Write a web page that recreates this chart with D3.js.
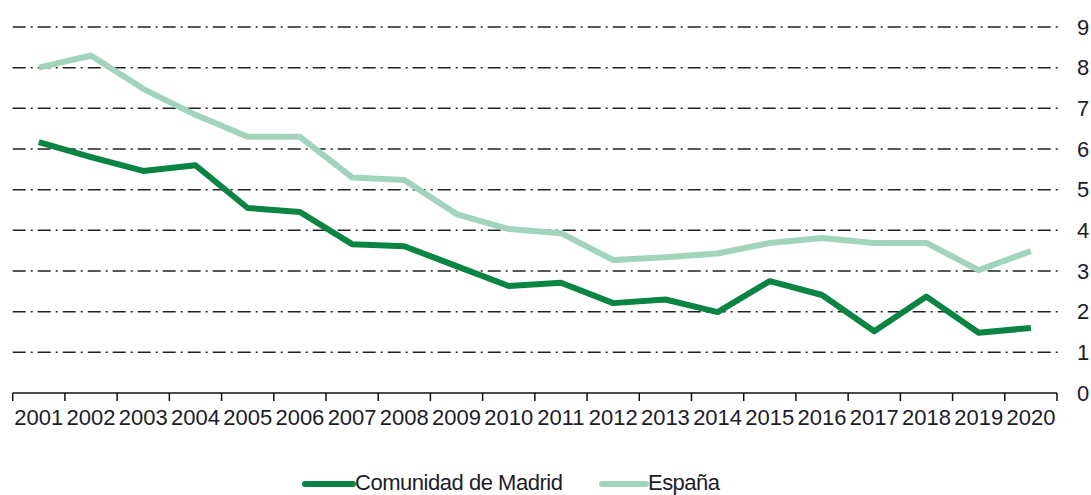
<!DOCTYPE html>
<html>
<head>
<meta charset="utf-8">
<script src="https://cdn.jsdelivr.net/npm/d3@7"></script>
<style>
  body { margin: 0; background: #fff; }
  text { font-family: "Liberation Sans", Arial, sans-serif; fill: #1c1c2a; }
</style>
</head>
<body>
<script>
var years = ['2001','2002','2003','2004','2005','2006','2007','2008','2009','2010',
             '2011','2012','2013','2014','2015','2016','2017','2018','2019','2020'];
var madrid = [6.17, 5.8, 5.46, 5.6, 4.55, 4.45, 3.66, 3.61, 3.12, 2.63,
              2.71, 2.21, 2.3, 1.99, 2.75, 2.41, 1.52, 2.37, 1.48, 1.6];
var espana = [8.0, 8.3, 7.48, 6.84, 6.3, 6.3, 5.3, 5.24, 4.4, 4.03,
              3.93, 3.27, 3.34, 3.43, 3.69, 3.81, 3.69, 3.69, 3.02, 3.49];
var yTicks = [0, 1, 2, 3, 4, 5, 6, 7, 8, 9];
var seriesNames = ['Comunidad de Madrid', 'España'];
var colors = ['#0a8443', '#a2d3bd'];

var width = 1091, height = 495;
var margin = {left: 12.7, right: 1057, top: 27, bottom: 393};

var x = d3.scaleBand()
    .domain(years)
    .range([margin.left, margin.right]);

var y = d3.scaleLinear()
    .domain([0, 9])
    .range([margin.bottom, margin.top]);

var svg = d3.select("body").append("svg")
    .attr("width", width)
    .attr("height", height);

// dash-dot gridlines
svg.append("g").selectAll("line")
    .data(yTicks.filter(function(d) { return d > 0; }))
    .enter().append("line")
    .attr("x1", margin.left)
    .attr("x2", margin.right + 1)
    .attr("y1", function(d) { return y(d); })
    .attr("y2", function(d) { return y(d); })
    .attr("stroke", "#222")
    .attr("stroke-width", 1.5)
    .attr("stroke-dasharray", "13,5,2,5");

// right y labels
var yAxis = d3.axisRight(y)
    .tickValues(yTicks)
    .tickSize(0)
    .tickPadding(20);

var gy = svg.append("g")
    .attr("transform", "translate(" + margin.right + ",0)")
    .call(yAxis);
gy.select(".domain").remove();
gy.selectAll("text")
    .attr("font-size", 22)
    .attr("font-family", "Liberation Sans, Arial, sans-serif")
    .attr("fill", "#1c1c2a");

// x axis
var xAxis = d3.axisBottom(x)
    .tickSize(0)
    .tickPadding(16);

var gx = svg.append("g")
    .attr("transform", "translate(0," + margin.bottom + ")")
    .call(xAxis);
gx.select(".domain").remove();
gx.selectAll("text")
    .attr("font-size", 22)
    .attr("font-family", "Liberation Sans, Arial, sans-serif")
    .attr("fill", "#1c1c2a");

svg.append("line")
    .attr("x1", margin.left).attr("x2", margin.right)
    .attr("y1", margin.bottom).attr("y2", margin.bottom)
    .attr("stroke", "#111").attr("stroke-width", 1.5);

var boundaries = years.map(function(d) { return x(d); }).concat([x.range()[1]]);
svg.append("g").selectAll("line")
    .data(boundaries)
    .enter().append("line")
    .attr("x1", function(d) { return d; })
    .attr("x2", function(d) { return d; })
    .attr("y1", margin.bottom)
    .attr("y2", margin.bottom + 8)
    .attr("stroke", "#111")
    .attr("stroke-width", 1.5);

// lines
var line = d3.line()
    .x(function(d, i) { return x(years[i]) + x.bandwidth() / 2; })
    .y(function(d) { return y(d); });

svg.append("path")
    .attr("d", line(espana))
    .attr("fill", "none")
    .attr("stroke", colors[1])
    .attr("stroke-width", 6)
    .attr("stroke-linejoin", "round");

svg.append("path")
    .attr("d", line(madrid))
    .attr("fill", "none")
    .attr("stroke", colors[0])
    .attr("stroke-width", 6)
    .attr("stroke-linejoin", "round");

// legend
var legendPos = [{lx: 305, tx: 355}, {lx: 602, tx: 648}];
var legend = svg.append("g");
seriesNames.forEach(function(name, i) {
    legend.append("line")
        .attr("x1", legendPos[i].lx)
        .attr("x2", legendPos[i].tx - 2)
        .attr("y1", 484).attr("y2", 484)
        .attr("stroke", colors[i])
        .attr("stroke-width", 6)
        .attr("stroke-linecap", "round");
    legend.append("text")
        .attr("x", legendPos[i].tx)
        .attr("y", 490)
        .attr("font-size", 22)
        .attr("textLength", i === 0 ? 208 : 72)
        .text(name);
});
</script>
</body>
</html>
